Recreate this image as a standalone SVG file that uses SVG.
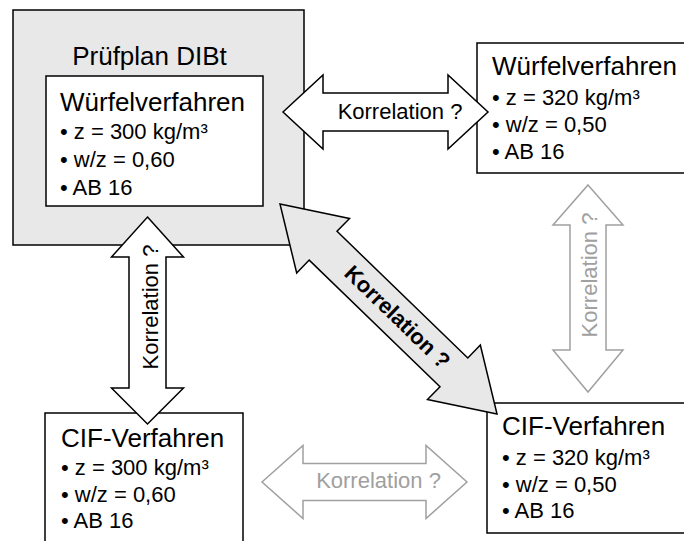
<svg xmlns="http://www.w3.org/2000/svg" width="684" height="541" viewBox="0 0 684 541">
<style>
.box{fill:#fff;stroke:#000;stroke-width:1.5}
.gbox{fill:#e8e8e8;stroke:#000;stroke-width:1.5}
.t{font-family:"Liberation Sans",Arial,sans-serif;fill:#000}
.title{font-size:26px}
.bul{font-size:22px}
.lbl{font-size:22px}
.arrB{fill:#fff;stroke:#000;stroke-width:1.5;stroke-linejoin:miter}
.arrG{fill:#fff;stroke:#a0a0a0;stroke-width:1.5}
.arrD{fill:#e8e8e8;stroke:#000;stroke-width:1.5}
.gt{fill:#a0a0a0}
</style>
<g id="pruefplan">
<rect class="gbox" x="13" y="10" width="291" height="235"/>
<text class="t title" x="149.5" y="65" text-anchor="middle">Prüfplan DIBt</text>
</g>
<g id="wuerfel-dibt">
<rect class="box" x="46" y="76" width="217" height="130"/>
<text class="t title" x="60" y="111">Würfelverfahren</text>
<text class="t bul" x="60" y="139">• z = 300 kg/m³</text>
<text class="t bul" x="60" y="167">• w/z = 0,60</text>
<text class="t bul" x="60" y="195">• AB 16</text>
</g>
<g id="wuerfel-320">
<rect class="box" x="477" y="43" width="215" height="130"/>
<text class="t title" x="492" y="75">Würfelverfahren</text>
<text class="t bul" x="492" y="105">• z = 320 kg/m³</text>
<text class="t bul" x="492" y="132">• w/z = 0,50</text>
<text class="t bul" x="492" y="159">• AB 16</text>
</g>
<g id="cif-300">
<rect class="box" x="45" y="413" width="198" height="140"/>
<text class="t title" x="61" y="447">CIF-Verfahren</text>
<text class="t bul" x="61" y="475">• z = 300 kg/m³</text>
<text class="t bul" x="61" y="502">• w/z = 0,60</text>
<text class="t bul" x="61" y="528">• AB 16</text>
</g>
<g id="cif-320">
<rect class="box" x="487" y="403" width="205" height="130"/>
<text class="t title" x="502" y="435">CIF-Verfahren</text>
<text class="t bul" x="502" y="465">• z = 320 kg/m³</text>
<text class="t bul" x="502" y="492">• w/z = 0,50</text>
<text class="t bul" x="502" y="518">• AB 16</text>
</g>
<g id="connectors">
<g id="arrow-top">
<polygon class="arrB" points="283,112 323,75 323,93 448,93 448,75 488,112 448,149 448,131 323,131 323,149"/>
<text class="t lbl" x="400" y="119" text-anchor="middle">Korrelation ?</text>
</g>
<g id="arrow-left">
<polygon class="arrB" points="147.5,217 183.5,257 166,257 166,388 183.5,388 147.5,424 111.5,388 129,388 129,257 111.5,257"/>
<text class="t lbl" transform="translate(158,307) rotate(-90)" text-anchor="middle">Korrelation ?</text>
</g>
<g id="arrow-diag">
<polygon class="arrD" transform="translate(280,204) rotate(44.06)" points="0,0 60,-38 60,-20 242,-20 242,-38 302,0 242,38 242,20 60,20 60,38"/>
<text class="t lbl" font-weight="bold" transform="translate(280,204) rotate(44.06)" x="163" y="7" text-anchor="middle">Korrelation ?</text>
</g>
<g id="arrow-right">
<polygon class="arrG" points="588,185 623,225 606,225 606,350 623,350 588,392 553,350 570,350 570,225 553,225"/>
<text class="t lbl gt" transform="translate(597,275) rotate(-90)" text-anchor="middle">Korrelation ?</text>
</g>
<g id="arrow-bottom">
<polygon class="arrG" points="262,482 303,445.5 303,463.5 426,463.5 426,445.5 467,482 426,518.5 426,500.5 303,500.5 303,518.5"/>
<text class="t lbl gt" x="378.5" y="488" text-anchor="middle">Korrelation ?</text>
</g>
</g>
</svg>
